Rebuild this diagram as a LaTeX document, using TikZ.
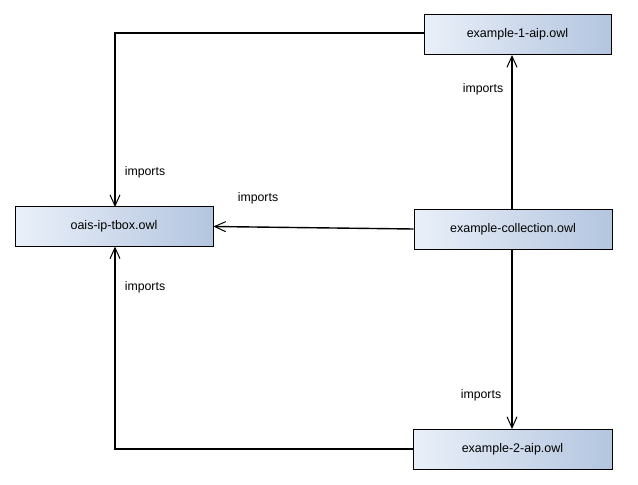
\documentclass[tikz,border=0pt]{standalone}
\usepackage{fontspec}
\setmainfont{Liberation Sans}
\usetikzlibrary{arrows.meta}
\definecolor{boxL}{HTML}{EAF0F9}
\definecolor{boxR}{HTML}{B3C5DF}
\begin{document}
\begin{tikzpicture}[x=1pt,y=-1pt,
  owlbox/.style={draw=black,line width=0.9pt,left color=boxL,right color=boxR,
    minimum width=#1,minimum height=40pt,inner sep=0pt,font=\fontsize{12.5}{14}\selectfont},
  owlbox/.default=198pt,
  conn/.style={draw=black,line width=1.4pt,-{Straight Barb[length=11pt,width=10pt,line width=1pt]}},
  lbl/.style={font=\fontsize{12.3}{14}\selectfont,inner sep=0pt}]
\useasboundingbox (0,0) rectangle (638,485);
\fill[white] (0,0) rectangle (638,485);
\node[owlbox=187pt] (e1) at (517.5,34.5) {example-1-aip.owl};
\node[owlbox=198pt] (oais) at (114,226.5) {oais-ip-tbox.owl};
\node[owlbox=198pt] (col) at (513,229) {example-collection.owl};
\node[owlbox=199pt] (e2) at (512.5,449) {example-2-aip.owl};
\draw[conn] (e1.west |- 0,33) -- (115,33) -- (115,207);
\draw[conn] (col.west) -- (oais.east);
\draw[conn] (512,209) -- (512,55);
\draw[conn] (512,249) -- (512,429);
\draw[conn] (e2.west) -- (115,449) -- (115,246.5);
\node[lbl] (l1) at (145,172) {imports};
\node[lbl] (l2) at (258,198) {imports};
\node[lbl] (l3) at (483,89) {imports};
\node[lbl] (l4) at (481,395) {imports};
\node[lbl] (l5) at (145,287) {imports};
\end{tikzpicture}
\end{document}
